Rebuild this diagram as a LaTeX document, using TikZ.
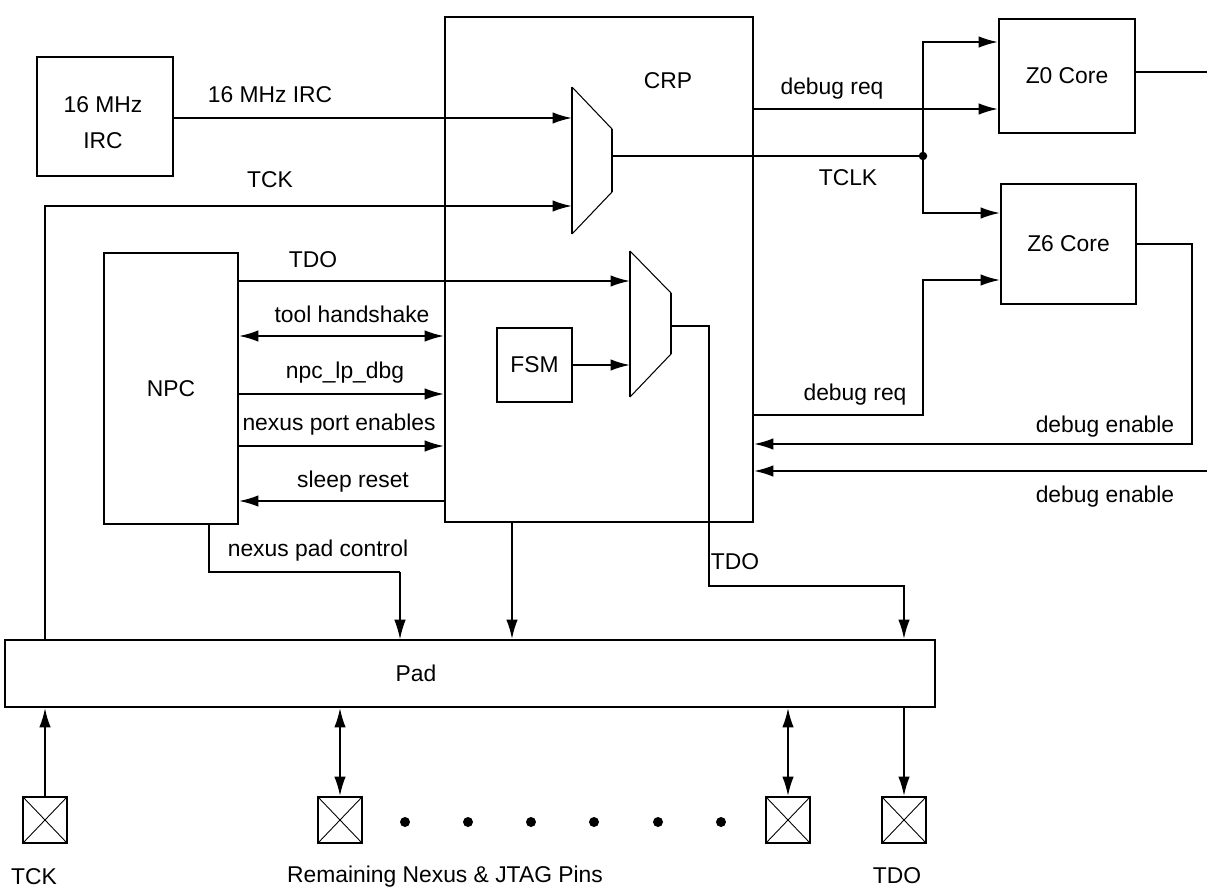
\documentclass[tikz,border=0pt]{standalone}
\usepackage{fontspec}
\setmainfont{Liberation Sans}
\usepackage{tikz}
\usetikzlibrary{arrows.meta,positioning,calc}

\begin{document}
\begin{tikzpicture}[
  x=0.02cm, y=-0.02cm,
  font=\fontsize{13}{20.4}\selectfont,
  blk/.style={rectangle,draw,line width=1.1pt,inner sep=0pt,align=center},
  pinbox/.style={rectangle,draw,line width=1.1pt,minimum width=0.88cm,minimum height=0.92cm,inner sep=0pt,
    path picture={\draw[line width=0.5pt] (path picture bounding box.south west) -- (path picture bounding box.north east)
      (path picture bounding box.north west) -- (path picture bounding box.south east);}},
  wire/.style={line width=1.1pt},
  arrow/.style={-{Latex[length=11pt,width=6.5pt]},line width=1.1pt},
  darrow/.style={{Latex[length=11pt,width=6.5pt]}-{Latex[length=11pt,width=6.5pt]},line width=1.1pt},
  lbl/.style={inner sep=0pt}
]
  \useasboundingbox (0,0) rectangle (1207,889);

  \node[blk,minimum width=2.72cm,minimum height=2.38cm] (irc) at (105,116.5) {};
  \node[lbl,align=center] (irclbl) at (103,123) {16 MHz\\IRC};
  \node[blk,minimum width=6.16cm,minimum height=10.1cm] (crp) at (599,269.5) {};
  \node[lbl] (crplbl) at (668,81) {CRP};
  \node[blk,minimum width=2.68cm,minimum height=5.42cm] (npc) at (171,388.5) {NPC};
  \node[blk,minimum width=1.5cm,minimum height=1.48cm] (fsm) at (534.5,365) {FSM};
  \node[blk,minimum width=2.72cm,minimum height=2.28cm] (z0) at (1067,76) {Z0 Core};
  \node[blk,minimum width=2.7cm,minimum height=2.4cm] (z6) at (1068.5,244) {Z6 Core};
  \node[blk,minimum width=18.6cm,minimum height=1.34cm] (pad) at (470,673.5) {};
  \node[lbl] (padlbl) at (416,673) {Pad};

  \node[pinbox] (tckpin) at (45,820) {};
  \node[pinbox] (pinb) at (340,820) {};
  \node[pinbox] (pinc) at (788,820) {};
  \node[pinbox] (tdopin) at (904,820) {};
  \foreach \px in {405,468,531,594,658,721}
    \fill (\px,822) circle (0.1cm);

  \draw[wire] (572,87) -- (572,234) (612,129) -- (612,192);
  \draw[line width=0.6pt] (572,87) -- (612,129) (572,234) -- (612,192);
  \coordinate (m1a) at (572,118);
  \coordinate (m1b) at (572,206);
  \coordinate (m1o) at (612,156);

  \draw[wire] (630,251) -- (630,397) (671,293) -- (671,354);
  \draw[line width=0.6pt] (630,251) -- (671,293) (630,397) -- (671,354);
  \coordinate (m2a) at (630,281);
  \coordinate (m2b) at (630,365);
  \coordinate (m2o) at (671,326);

  \coordinate (jn) at (923,156);
  \coordinate (z0out) at (1207,72);
  \coordinate (dben) at (1207,471);

  \draw[arrow] (irc.east |- m1a) -- (m1a);
  \draw[arrow] (tckpin |- pad.north) |- (m1b);
  \draw[wire] (m1o) -- (jn);
  \fill (jn) circle (0.085cm);
  \draw[arrow] (jn) |- (z0.west |- 0,42);
  \draw[arrow] (jn) |- (z6.west |- 0,213);
  \draw[arrow] (crp.east |- 0,109) -- (z0.west |- 0,109);
  \draw[wire] (z0.east |- z0out) -- (z0out);
  \draw[arrow] (z6.east) -| (1192,444) -- (crp.east |- 0,444);
  \draw[arrow] (dben) -- (crp.east |- dben);
  \draw[arrow] (crp.east |- 0,415) -| (923,280) -- (z6.west |- 0,280);

  \draw[arrow] (npc.east |- m2a) -- (m2a);
  \draw[darrow] (npc.east |- 0,336) -- (crp.west |- 0,336);
  \draw[arrow] (npc.east |- 0,394) -- (crp.west |- 0,394);
  \draw[arrow] (npc.east |- 0,446) -- (crp.west |- 0,446);
  \draw[arrow] (crp.west |- 0,501) -- (npc.east |- 0,501);
  \draw[arrow] (fsm.east) -- (m2b);

  \draw[wire] (npc.south -| 209,0) |- (400,572);
  \draw[-{Latex[length=11pt,width=6.5pt]},line width=0.6pt] (400,572) -- (400,572 |- pad.north);
  \draw[arrow] (crp.south -| 512,0) -- (512,0 |- pad.north);
  \draw[arrow] (m2o) -| (709,586) -| (tdopin |- pad.north);

  \draw[arrow] (tckpin.north) -- (tckpin |- pad.south);
  \draw[darrow] (pinb |- pad.south) -- (pinb.north);
  \draw[darrow] (pinc |- pad.south) -- (pinc.north);
  \draw[arrow] (tdopin |- pad.south) -- (tdopin.north);

  \node[lbl] (l16) at (270,95) {16 MHz IRC};
  \node[lbl] (ltck) at (270,180) {TCK};
  \node[lbl] (ltclk) at (848,178) {TCLK};
  \node[lbl] (ldbg1) at (832,89) {debug req};
  \node[lbl] (ldbg2) at (855,395) {debug req};
  \node[lbl] (len1) at (1105,427) {debug enable};
  \node[lbl] (len2) at (1105,497) {debug enable};
  \node[lbl] (ltdo1) at (313,260) {TDO};
  \node[lbl] (lhs) at (352,314) {tool handshake};
  \node[lbl] (llp) at (345,373) {npc\_lp\_dbg};
  \node[lbl] (lport) at (339,425) {nexus port enables};
  \node[lbl] (lsleep) at (353,482) {sleep reset};
  \node[lbl] (lnpad) at (318,551) {nexus pad control};
  \node[lbl] (ltdo2) at (735,562) {TDO};
  \node[lbl] (ltckp) at (34,877) {TCK};
  \node[lbl] (lrem) at (445,877) {Remaining Nexus \& JTAG Pins};
  \node[lbl] (ltdop) at (897,876) {TDO};
\end{tikzpicture}
\end{document}
